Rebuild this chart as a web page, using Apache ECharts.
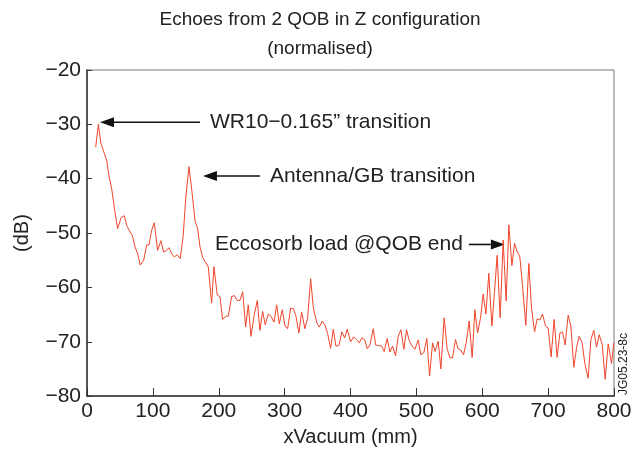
<!DOCTYPE html>
<html>
<head>
<meta charset="utf-8">
<script src="https://cdn.jsdelivr.net/npm/echarts@6/dist/echarts.min.js"></script>
<style>
  html, body { margin: 0; padding: 0; background: #fff; }
  #chart { width: 640px; height: 452px; }
</style>
</head>
<body>
<div id="chart"></div>
<script>
// Distance along the vacuum section (mm)
const xVacuum = [
  13.2, 17.2, 21, 30, 33.4, 37.5, 42.5, 46.5, 51.6, 56.6, 60.2, 65.3, 68.8, 72.8, 76.9, 80.9,
  86, 90.6, 94, 98.1, 102.2, 107.2, 112.2, 116.4, 120.4, 124.4, 128.5, 132.5, 136.6, 141.6,
  146.1, 149.8, 154.8, 158.9, 163.9, 168, 171.5, 175.6, 178.6, 184.1, 189.2, 192.7, 197.7,
  201.8, 205.9, 210.9, 214.5, 219.6, 223.6, 228.1, 232.2, 236.3, 240.8, 244.8, 248.9, 254,
  258.5, 262.5, 266.6, 270.6, 275.2, 279.3, 283.9, 287.9, 291.9, 296.4, 300.5, 304.6, 309.1,
  313.1, 317.1, 321.7, 325.8, 330.8, 334.9, 339.5, 343.6, 348.6, 352.6, 357.2, 361.2, 365.3,
  369.8, 373.9, 377.9, 382.4, 387, 391.1, 395, 400.2, 404.7, 409.3, 413.2, 417.3, 421.4,
  425.4, 429.5, 434.5, 438.2, 442.3, 447.3, 451.1, 455.7, 459.8, 463.8, 468.4, 472.4, 476.5,
  481, 485.1, 489.1, 493.6, 497.7, 502.7, 506.8, 511.4, 515.9, 520, 524.6, 528.5, 533.1,
  537.2, 542.2, 546.7, 550.8, 554.8, 559.4, 563.4, 567.4, 571.6, 575.6, 580.1, 584.7, 588.8,
  592.9, 597.4, 601.4, 605.5, 610, 614.6, 618.7, 622.6, 627.2, 631.7, 636.3, 640.4, 645, 649,
  653, 657.1, 661.2, 666.2, 670.7, 674.8, 679.4, 683.3, 687.4, 691.5, 696, 700.1, 704.6,
  709.1, 713.7, 717.8, 721.8, 725.9, 730.4, 734.5, 739, 743.1, 747.1, 751.7, 755.7, 760.8,
  764.9, 769.4, 773.5, 777.5, 782.1, 786.6, 791.2, 796.3, 799.8
];

// Normalised echo level (dB)
const echoDb = [
  -34.2, -30.0, -33.4, -36.7, -39.5, -41.9, -46.2, -49.2, -47.2, -46.8, -48.6, -49.8, -50.4, -52.5, -53.8, -55.9,
  -55.0, -52.2, -52.2, -49.5, -48.1, -53.2, -51.4, -53.5, -53.2, -52.7, -53.8, -54.4, -54.0, -54.7,
  -50.4, -43.7, -37.8, -41.9, -47.7, -49.2, -52.5, -54.5, -54.2, -56.2, -62.9, -56.2, -61.4,
  -61.7, -65.9, -65.3, -65.3, -61.7, -61.5, -62.4, -62.4, -60.8, -67.3, -63.2, -69.0, -65.0,
  -62.4, -67.9, -64.4, -66.9, -64.9, -65.3, -66.4, -63.2, -66.7, -64.1, -67.1, -67.6, -63.8,
  -63.9, -65.2, -68.4, -64.5, -67.6, -65.6, -58.4, -63.8, -66.4, -67.3, -66.2, -66.9, -68.5,
  -71.2, -67.7, -70.8, -70.7, -68.2, -69.3, -67.7, -70.0, -69.1, -69.6, -70.2, -69.3, -69.6,
  -71.3, -70.6, -67.6, -70.6, -70.7, -70.8, -71.8, -69.4, -71.9, -70.8, -72.6, -69.0, -67.8,
  -71.4, -67.8, -69.8, -70.8, -71.4, -69.7, -72.4, -72.0, -69.4, -76.3, -70.2, -71.8, -69.9,
  -75.0, -65.6, -71.3, -72.9, -73.0, -69.6, -71.3, -71.5, -72.4, -70.2, -66.2, -72.9, -64.1,
  -68.4, -65.6, -61.2, -64.9, -57.4, -67.1, -60.7, -54.1, -65.6, -51.3, -62.5, -48.5, -56.0, -51.9,
  -53.4, -54.4, -59.8, -67.0, -55.6, -63.8, -68.2, -65.8, -66.0, -64.9, -67.1, -67.5, -72.8,
  -65.9, -72.9, -68.4, -68.2, -70.6, -65.1, -67.1, -74.7, -71.1, -69.0, -70.2, -74.0, -76.7,
  -69.6, -67.9, -71.0, -68.7, -70.5, -76.9, -70.4, -74.0, -70.2
];

// Axis ranges and tick spacing
const xRange = [0, 800], xStep = 100;
const yRange = [-80, -20], yStep = 10;

// Annotated features: arrow from tail to tip, label beside the tail
const notes = [
  { text: 'WR10\u22120.165\u201D transition', tip: [19.7, -29.6], tail: [171.5, -29.6], side: 'right' },
  { text: 'Antenna/GB transition', tip: [176, -39.5], tail: [262.5, -39.5], side: 'right' },
  { text: 'Eccosorb load @QOB end', tip: [634.3, -52.1], tail: [579.7, -52.1], side: 'left' }
];

const FONT = '"Liberation Sans", Arial, Helvetica, sans-serif';
const INK = '#222';
const minus = v => String(v).replace('-', '\u2212');

const chart = echarts.init(document.getElementById('chart'), null, { renderer: 'canvas' });

chart.setOption({
  animation: false,
  backgroundColor: '#fff',
  title: {
    text: 'Echoes from 2 QOB in Z configuration\n(normalised)',
    left: 'center',
    top: 0,
    textStyle: { fontFamily: FONT, fontSize: 19, fontWeight: 'normal', color: INK, lineHeight: 29 }
  },
  grid: { left: 87, right: 26, top: 70, bottom: 53, show: true, borderColor: '#777', borderWidth: 1 },
  xAxis: {
    type: 'value', min: xRange[0], max: xRange[1], interval: xStep,
    name: 'xVacuum (mm)', nameLocation: 'middle', nameGap: 30,
    nameTextStyle: { fontFamily: FONT, fontSize: 20, color: INK },
    axisLine: { onZero: false, lineStyle: { color: '#333', width: 1.5 } },
    axisTick: { inside: true, length: 8, lineStyle: { color: '#333' } },
    axisLabel: { fontFamily: FONT, fontSize: 21, color: INK, margin: 5, formatter: v => minus(v) },
    splitLine: { show: false }
  },
  yAxis: {
    type: 'value', min: yRange[0], max: yRange[1], interval: yStep,
    name: '(dB)', nameLocation: 'middle', nameGap: 55,
    nameTextStyle: { fontFamily: FONT, fontSize: 20, color: INK },
    axisLine: { onZero: false, lineStyle: { color: '#333', width: 1.5 } },
    axisTick: { inside: true, length: 5, lineStyle: { color: '#333' } },
    axisLabel: { fontFamily: FONT, fontSize: 21, color: INK, margin: 6, formatter: v => minus(v) },
    splitLine: { show: false }
  },
  series: [{
    type: 'line',
    data: xVacuum.map((x, i) => [x, echoDb[i]]),
    showSymbol: false,
    lineStyle: { color: '#f0452b', width: 1 },
    silent: true
  }]
});

// Arrow annotations, positioned from data coordinates
function drawNotes() {
  const elements = [];
  notes.forEach(n => {
    const tip = chart.convertToPixel({ gridIndex: 0 }, n.tip);
    const tail = chart.convertToPixel({ gridIndex: 0 }, n.tail);
    const dir = Math.sign(tip[0] - tail[0]);
    const headLen = 14, headHalf = 5;
    const base = tip[0] - dir * headLen;
    elements.push({
      type: 'line',
      shape: { x1: tail[0], y1: tail[1], x2: base, y2: tip[1] },
      style: { stroke: '#111', lineWidth: 1.6 }
    });
    elements.push({
      type: 'polygon',
      shape: { points: [[tip[0], tip[1]], [base, tip[1] - headHalf], [base, tip[1] + headHalf]] },
      style: { fill: '#111' }
    });
    const gap = n.side === 'right' ? 10 : -6;
    elements.push({
      type: 'text',
      x: tail[0] + gap,
      y: tail[1],
      style: {
        text: n.text, fontFamily: FONT, fontSize: 21, fill: INK,
        align: n.side === 'right' ? 'left' : 'right', verticalAlign: 'middle'
      }
    });
  });
  elements.push({
    type: 'text',
    x: 624, y: 364, rotation: Math.PI / 2,
    style: { text: 'JG05.23-8c', fontFamily: FONT, fontSize: 12, fill: INK, align: 'center', verticalAlign: 'middle' }
  });
  chart.setOption({ graphic: { elements } });
}
drawNotes();
</script>
</body>
</html>
